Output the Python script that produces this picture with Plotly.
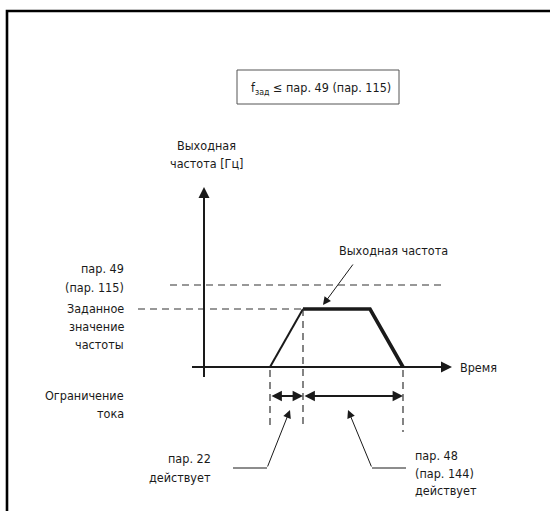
import plotly.graph_objects as go

# ---- diagram values (logical units: time to the right, frequency up; origin at axes crossing)
ramp_t = [66, 99, 166, 199]          # start, end of accel, start of decel, stop
ramp_f = [0, 58, 58, 0]              # output frequency at these times
f_set = 58                           # set frequency
f_max = 82                           # пар. 49 (пар. 115)
t_axis_end = 248
f_axis_end = 180

FONT = "Liberation Sans Narrow, DejaVu Sans Condensed, Arial Narrow, sans-serif"
INK = "#1a1a1a"
DASH = "#333333"
FS = 12.5

fig = go.Figure()

# trapezoid: rising part thin, plateau and decel thick
fig.add_trace(go.Scatter(x=ramp_t[:2], y=ramp_f[:2], mode="lines",
                         line=dict(color=INK, width=2), hoverinfo="skip"))
fig.add_trace(go.Scatter(x=ramp_t[1:], y=ramp_f[1:], mode="lines",
                         line=dict(color=INK, width=3.6), hoverinfo="skip"))

def dline(x, y):
    fig.add_trace(go.Scatter(x=x, y=y, mode="lines",
                             line=dict(color=DASH, width=1.2, dash="7px,5px"),
                             hoverinfo="skip"))

# dashed reference lines
dline([-34, 242], [f_max, f_max])
dline([-66, ramp_t[1]], [f_set, f_set])
dline([ramp_t[0], ramp_t[0]], [-3, -63])
dline([ramp_t[1], ramp_t[1]], [f_set, -58])
dline([ramp_t[3], ramp_t[3]], [-3, -65])

# axes lines (without heads)
fig.add_trace(go.Scatter(x=[-12, t_axis_end - 8], y=[0, 0], mode="lines",
                         line=dict(color=INK, width=2), hoverinfo="skip"))
fig.add_trace(go.Scatter(x=[0, 0], y=[-10, f_axis_end - 8], mode="lines",
                         line=dict(color=INK, width=2), hoverinfo="skip"))

# leader polylines
fig.add_trace(go.Scatter(x=[29, 63], y=[-101, -101], mode="lines",
                         line=dict(color=INK, width=1), hoverinfo="skip"))
fig.add_trace(go.Scatter(x=[202, 168], y=[-101, -101], mode="lines",
                         line=dict(color=INK, width=1), hoverinfo="skip"))

def arrow(x, y, ax, ay, w=2, size=1.0, head=2, side="end"):
    fig.add_annotation(x=x, y=y, ax=ax, ay=ay, xref="x", yref="y", axref="x", ayref="y",
                       text="", showarrow=True, arrowhead=head, startarrowhead=head,
                       arrowsize=size, startarrowsize=size, arrowwidth=w,
                       arrowcolor=INK, arrowside=side, standoff=0, startstandoff=0)

# axis heads
arrow(t_axis_end, 0, t_axis_end - 10, 0, w=2, size=1.1)
arrow(0, f_axis_end, 0, f_axis_end - 10, w=2, size=1.1)

# time-span arrows
arrow(ramp_t[1], -29, ramp_t[0], -29, w=1.8, size=1.15, side="end+start")
arrow(ramp_t[3], -29, ramp_t[1], -29, w=1.8, size=1.15, side="end+start")

# leaders with arrow tips
arrow(119, 62, 150, 104, w=1, size=1.6)
arrow(86, -43, 63, -101, w=1, size=1.6)
arrow(144, -43, 168, -101, w=1, size=1.6)

def txt(x, ys, lines, xa="center", size=FS):
    for y, s in zip(ys, lines):
        fig.add_annotation(x=x, y=y, xref="x", yref="y", text=s, showarrow=False,
                           xanchor=xa, yanchor="middle", align=xa,
                           font=dict(family=FONT, size=size, color=INK))

txt(117, [279], ["f<sub>зад</sub> ≤ пар. 49 (пар. 115)"])
txt(2, [222, 204], ["Выходная", "частота [Гц]"])
txt(189, [117], ["Выходная частота"])
txt(254, [0], ["Время"], xa="left")
txt(-78, [99, 80], ["пар. 49", "(пар. 115)"], xa="right")
txt(-78, [59, 41, 23], ["Заданное", "значение", "частоты"], xa="right")
txt(-78, [-28, -46], ["Ограничение", "тока"], xa="right")
txt(9, [-91, -110], ["пар. 22", "действует"], xa="right")
txt(209, [-88, -106, -123], ["пар. 48", "(пар. 144)", "действует"], xa="left")

# condition box and outer frame
fig.add_shape(type="rect", x0=33, x1=195, y0=263, y1=297, xref="x", yref="y",
              line=dict(color="#555555", width=1))
fig.add_shape(type="rect", x0=-197, x1=356, y0=-153, y1=356, xref="x", yref="y",
              line=dict(color="#000000", width=2.6))

fig.update_layout(
    width=550, height=511, margin=dict(l=0, r=0, t=0, b=0),
    paper_bgcolor="white", plot_bgcolor="white", showlegend=False,
    xaxis=dict(range=[-204, 346], visible=False, fixedrange=True),
    yaxis=dict(range=[-144, 367], visible=False, fixedrange=True),
)

fig.write_html("out.html", post_script="document.body.style.margin='0';",
               config={"displayModeBar": False})
